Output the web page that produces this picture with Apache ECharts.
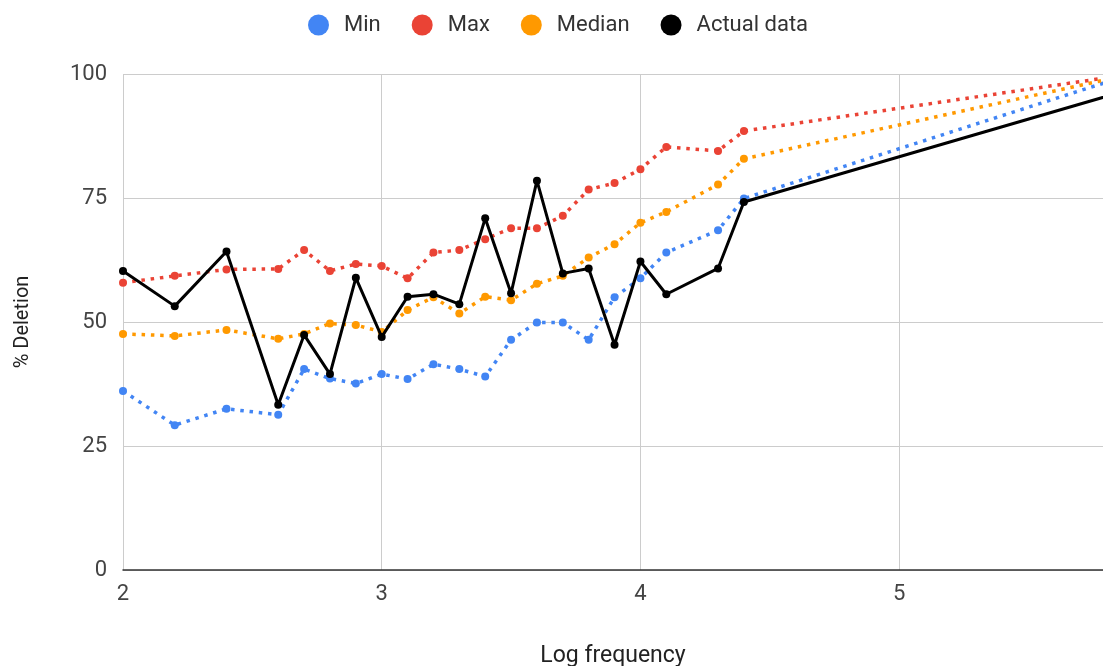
<!DOCTYPE html>
<html>
<head>
<meta charset="utf-8">
<script src="https://cdn.jsdelivr.net/npm/echarts@6/dist/echarts.min.js"></script>
<style>
html,body{margin:0;padding:0;background:#fff;}
#chart{width:1103px;height:666px;}
</style>
</head>
<body>
<div id="chart"></div>
<script>
// Log frequency (x) values
const logFreq = [2.0, 2.2, 2.4, 2.6, 2.7, 2.8, 2.9, 3.0, 3.1, 3.2, 3.3, 3.4, 3.5, 3.6, 3.7, 3.8, 3.9, 4.0, 4.1, 4.3, 4.4, 5.9];
const minVals = [36.1, 29.2, 32.5, 31.3, 40.5, 38.6, 37.6, 39.5, 38.5, 41.5, 40.5, 39.0, 46.4, 49.9, 49.9, 46.4, 55.0, 58.8, 64.0, 68.5, 74.9, 100];
const maxVals = [57.9, 59.3, 60.6, 60.7, 64.5, 60.3, 61.7, 61.3, 58.8, 64.0, 64.5, 66.7, 68.9, 68.9, 71.4, 76.7, 78.0, 80.8, 85.3, 84.5, 88.5, 100];
const medianVals = [47.6, 47.2, 48.4, 46.6, 47.6, 49.7, 49.4, 48.0, 52.4, 55.0, 51.7, 55.1, 54.4, 57.7, 59.3, 63.0, 65.7, 70.0, 72.2, 77.7, 82.9, 100];
const actualVals = [60.3, 53.2, 64.2, 33.3, 47.4, 39.5, 58.9, 47.0, 55.1, 55.6, 53.6, 70.9, 55.8, 78.5, 59.8, 60.8, 45.4, 62.2, 55.6, 60.8, 74.2, 97];
const xTicks = [2, 3, 4, 5];
const yTicks = [0, 25, 50, 75, 100];

const pair = (arr) => logFreq.map((x, i) => [x, arr[i]]);
const FONT = 'Roboto';

const dotted = (name, color, vals, z) => ({
  name: name,
  type: 'line',
  data: pair(vals),
  symbol: 'circle',
  symbolSize: 8,
  clip: true,
  z: z,
  itemStyle: { color: color },
  lineStyle: { color: color, width: 3.5, type: [3.5, 5.8], cap: 'butt' }
});

const chart = echarts.init(document.getElementById('chart'), null, { renderer: 'canvas' });
chart.setOption({
  animation: false,
  backgroundColor: '#fff',
  textStyle: { fontFamily: FONT },
  legend: {
    top: 9,
    left: 303,
    itemWidth: 21,
    itemHeight: 21,
    itemGap: 31,
    icon: 'circle',
    textStyle: { fontFamily: FONT, fontSize: 22, color: '#333', padding: [0, 0, 0, 10] },
    data: ['Min', 'Max', 'Median', 'Actual data']
  },
  grid: { left: 123, right: 0, top: 74, bottom: 96, containLabel: false, outerBoundsMode: 'none' },
  xAxis: {
    type: 'value',
    min: 2,
    max: 5.788,
    interval: 1,
    name: 'Log frequency',
    nameLocation: 'middle',
    nameGap: 75,
    nameTextStyle: { fontFamily: FONT, fontSize: 23, color: '#222' },
    axisLine: { show: true, onZero: false, lineStyle: { color: '#333', width: 1.5 } },
    axisTick: { show: false },
    axisLabel: {
      margin: 13,
      fontFamily: FONT, fontSize: 22, color: '#444',
      formatter: (v) => xTicks.includes(Math.round(v * 1000) / 1000) ? String(v) : ''
    },
    splitLine: { show: true, lineStyle: { color: '#cccccc', width: 1 } }
  },
  yAxis: {
    type: 'value',
    min: 0,
    max: 100,
    interval: 25,
    name: '% Deletion',
    nameLocation: 'middle',
    nameGap: 90,
    nameRotate: 90,
    nameTextStyle: { fontFamily: FONT, fontSize: 20, color: '#222' },
    axisLine: { show: false },
    axisTick: { show: false },
    axisLabel: {
      margin: 16,
      fontFamily: FONT, fontSize: 22, color: '#444',
      formatter: (v) => yTicks.includes(v) ? String(v) : ''
    },
    splitLine: { show: true, lineStyle: { color: '#cccccc', width: 1 } }
  },
  series: [
    dotted('Min', '#4285F4', minVals, 2),
    dotted('Max', '#EA4335', maxVals, 3),
    dotted('Median', '#FF9900', medianVals, 4),
    {
      name: 'Actual data',
      type: 'line',
      data: pair(actualVals),
      symbol: 'circle',
      symbolSize: 8,
      clip: true,
      z: 5,
      itemStyle: { color: '#000000' },
      lineStyle: { color: '#000000', width: 3 }
    }
  ]
});
</script>
</body>
</html>
